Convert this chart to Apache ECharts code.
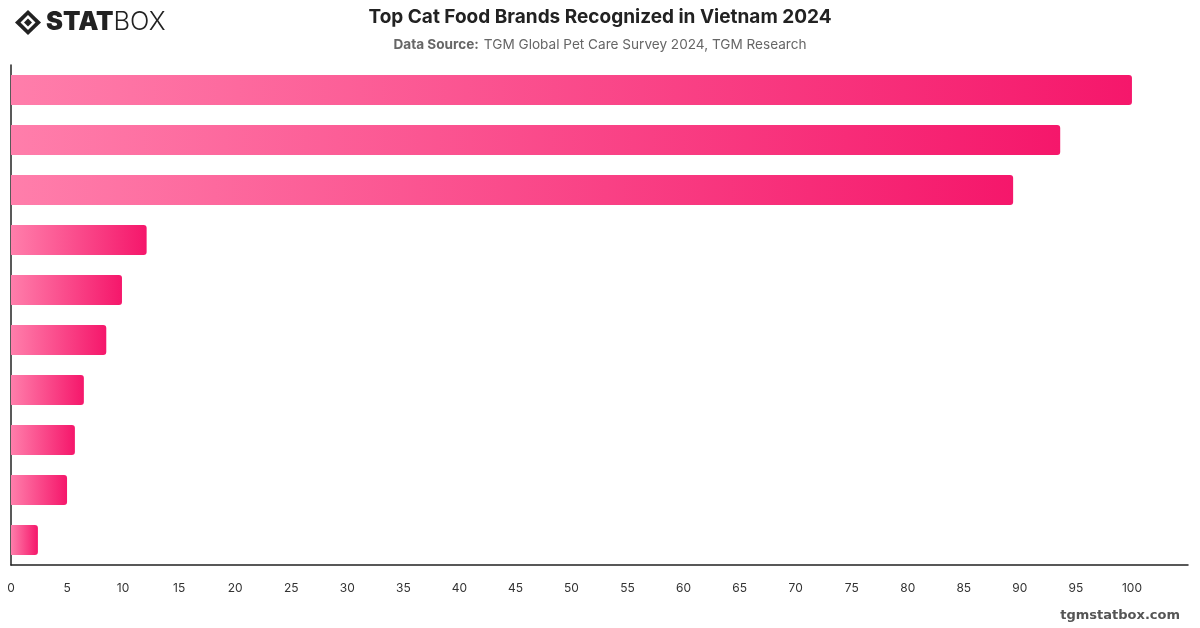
<!DOCTYPE html>
<html><head><meta charset="utf-8">
<script src="https://cdn.jsdelivr.net/npm/echarts@6/dist/echarts.min.js"></script>
<style>html,body{margin:0;padding:0;background:#fff}#c{width:1200px;height:628px}</style>
</head><body><div id="c"></div>
<script>
const categories = ['Brand 1','Brand 2','Brand 3','Brand 4','Brand 5','Brand 6','Brand 7','Brand 8','Brand 9','Brand 10'];
const values = [100, 93.6, 89.4, 12.1, 9.9, 8.5, 6.5, 5.7, 5.0, 2.4];
const tickInterval = 5;

const chart = echarts.init(document.getElementById('c'));
const grad = new echarts.graphic.LinearGradient(0, 0, 1, 0, [
  {offset: 0, color: '#ff7eab'},
  {offset: 1, color: '#f5176b'}
]);
chart.setOption({
  animation: false,
  backgroundColor: '#fff',
  title: [{
    text: 'Top Cat Food Brands Recognized in Vietnam 2024',
    left: 'center', top: 3,
    textStyle: {fontFamily: 'Inter', fontSize: 19, fontWeight: 'bold', color: '#222'}
  }, {
    text: '{b|Data Source:} {r|TGM Global Pet Care Survey 2024, TGM Research}',
    left: 'center', top: 31,
    textStyle: {fontWeight: 'normal', rich: {
      b: {fontFamily: 'Inter', fontSize: 13.6, fontWeight: 'bold', color: '#666'},
      r: {fontFamily: 'Inter', fontSize: 13.6, fontWeight: 'normal', color: '#666'}
    }}
  }],
  grid: {left: 11, right: 12, top: 65, bottom: 63, containLabel: false},
  xAxis: {
    type: 'value', min: 0, max: 105, interval: tickInterval,
    axisLine: {show: true, lineStyle: {color: '#222', width: 1.5}},
    axisTick: {show: false},
    splitLine: {show: false},
    axisLabel: {showMaxLabel: false, margin: 17, fontFamily: 'Inter', fontSize: 12, color: '#333'}
  },
  yAxis: {
    type: 'category', data: categories, inverse: true,
    axisLine: {show: true, lineStyle: {color: '#222', width: 1.5}},
    axisTick: {show: false}, axisLabel: {show: false}
  },
  series: [{
    type: 'bar', data: values, barWidth: 30,
    itemStyle: {color: grad, borderRadius: [0, 3, 3, 0]}
  }],
  graphic: [
    {type: 'polygon', shape: {points: [[28,10],[41,22.5],[28,35],[15,22.5]]}, style: {fill: '#222'}},
    {type: 'polygon', shape: {points: [[28,15],[35.5,22.5],[28,30],[20.5,22.5]]}, style: {fill: '#fff'}},
    {type: 'polygon', shape: {points: [[28,18.5],[32,22.5],[28,26.5],[24,22.5]]}, style: {fill: '#222'}},
    {type: 'text', left: 46, top: 9, style: {
      text: '{a|STAT}{b|BOX}',
      rich: {
        a: {fontFamily: 'Inter', fontWeight: 900, fontSize: 25.5, fill: '#222', color: '#222'},
        b: {fontFamily: 'Inter', fontWeight: 300, fontSize: 25.5, fill: '#222', color: '#222'}
      }
    }},
    {type: 'text', right: 20, top: 609, style: {text: 'tgmstatbox.com', font: 'bold 13px "DejaVu Sans"', fill: '#555'}}
  ]
});
</script></body></html>
